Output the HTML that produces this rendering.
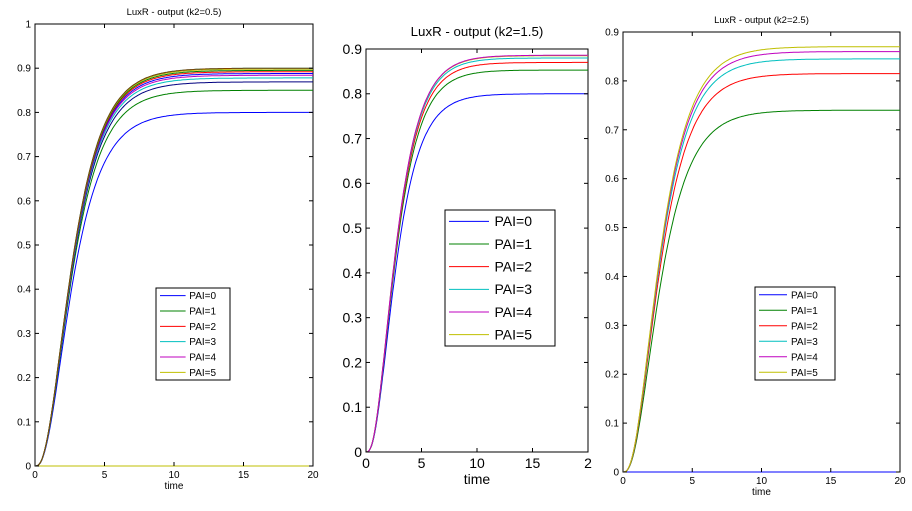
<!DOCTYPE html>
<html><head><meta charset="utf-8"><style>
body{margin:0;background:#fff;width:912px;height:506px;overflow:hidden}
svg text{font-family:"Liberation Sans",sans-serif;fill:#000}
</style></head><body>
<svg id="s" width="912" height="506" xmlns="http://www.w3.org/2000/svg"></svg>
<script>
const S=document.getElementById('s');let h='';
const C=['#0000ff','#008000','#ff0000','#00bfbf','#bf00bf','#bfbf00'];
function panel(o){
 const {x0,x1,y0,y1,ymax,fs,title,ty,levels,leg,clip20}=o;
 const X=t=>x0+(x1-x0)*t/20, Y=v=>y1-(y1-y0)*v/ymax;
 h+=`<rect x="${x0}" y="${y0}" width="${x1-x0}" height="${y1-y0}" fill="#fff" stroke="#000" stroke-width="1"/>`;
 levels.forEach(([L,c])=>{let d='';for(let i=0;i<=200;i++){const t=i/10;const v=L*Math.pow(1-Math.exp(-0.6*t),3);d+=(i?'L':'M')+X(t).toFixed(1)+','+Y(v).toFixed(1);}
  h+=`<path d="${d}" fill="none" stroke="${c}" stroke-width="1"/>`;});
 for(let k=0;k<=Math.round(ymax*10);k++){const v=k/10,y=Y(v);
  h+=`<line x1="${x0}" x2="${x0+4}" y1="${y}" y2="${y}" stroke="#000"/><line x1="${x1}" x2="${x1-4}" y1="${y}" y2="${y}" stroke="#000"/>`;
  h+=`<text x="${x0-4}" y="${y+fs*0.35}" font-size="${fs}" text-anchor="end">${k==10?'1':k==0?'0':v.toFixed(1)}</text>`;}
 for(let t=0;t<=20;t+=5){const x=X(t);
  h+=`<line x1="${x}" x2="${x}" y1="${y1}" y2="${y1-4}" stroke="#000"/><line x1="${x}" x2="${x}" y1="${y0}" y2="${y0+4}" stroke="#000"/>`;
  h+=`<text x="${x}" y="${y1+fs+2}" font-size="${fs}" text-anchor="middle">${clip20&&t==20?'2':t}</text>`;}
 h+=`<text x="${(x0+x1)/2}" y="${y1+fs*2.3}" font-size="${fs}" text-anchor="middle">time</text>`;
 h+=`<text x="${(x0+x1)/2}" y="${ty}" font-size="${fs*0.95}" text-anchor="middle">${title}</text>`;
 const [lx,ly,lw,lh]=leg;h+=`<rect x="${lx}" y="${ly}" width="${lw}" height="${lh}" fill="#fff" stroke="#000"/>`;
 const step=lh/6;for(let i=0;i<6;i++){const y=ly+step*(i+0.5);
  h+=`<line x1="${lx+4}" x2="${lx+lw*0.4}" y1="${y}" y2="${y}" stroke="${C[i]}"/><text x="${lx+lw*0.45}" y="${y+fs*0.35}" font-size="${fs}">PAI=${i}</text>`;}
}
panel({x0:35,x1:313,y0:24,y1:466,ymax:1,fs:10,title:'LuxR - output (k2=0.5)',ty:15,
 levels:[[0,'#bfbf00'],[0.8,C[0]],[0.85,C[1]],[0.869,'#000080'],[0.878,C[3]],[0.884,C[4]],[0.888,C[0]],[0.892,C[2]],[0.895,C[1]],[0.898,C[5]],[0.9,C[3]],[0.9,'#804000']],
 leg:[156,288,74,92]});
panel({x0:366,x1:588,y0:49,y1:452,ymax:0.9,fs:14,title:'LuxR - output (k2=1.5)',ty:36,clip20:true,
 levels:[[0.8,C[0]],[0.853,C[1]],[0.87,C[2]],[0.88,C[3]],[0.885,C[5]],[0.886,C[4]]],
 leg:[445,210,110,136]});
panel({x0:623,x1:900,y0:32,y1:472,ymax:0.9,fs:10,title:'LuxR - output (k2=2.5)',ty:23,
 levels:[[0,C[0]],[0.74,C[1]],[0.815,C[2]],[0.845,C[3]],[0.86,C[4]],[0.87,C[5]]],
 leg:[755,287,80,93]});
S.innerHTML=h;
</script>
</body></html>
